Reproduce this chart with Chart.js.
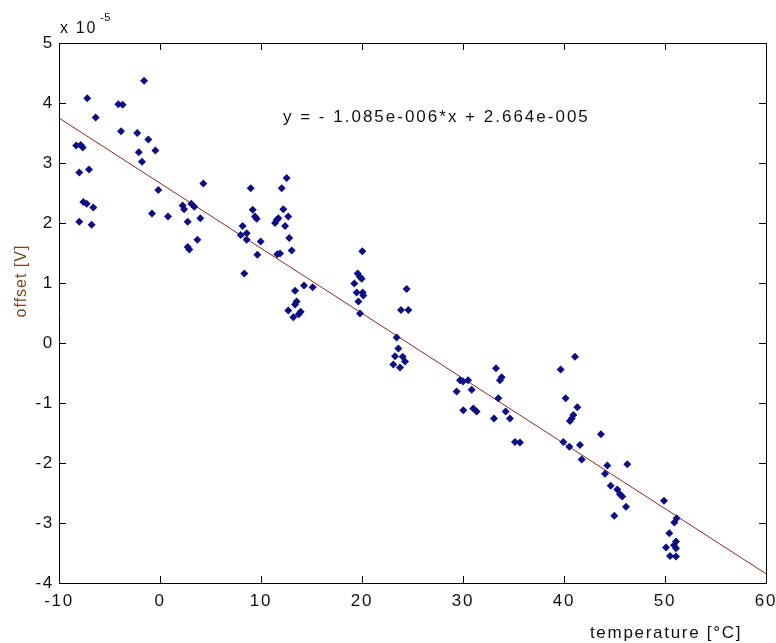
<!DOCTYPE html>
<html>
<head>
<meta charset="utf-8">
<script src="https://cdn.jsdelivr.net/npm/chart.js@4/dist/chart.umd.min.js"></script>
<style>
    html, body { margin: 0; padding: 0; background: #fff; }
    #wrap { width: 776px; height: 643px; position: relative; }
</style>
</head>
<body>
<div id="wrap"><canvas id="offset-chart"></canvas></div>
<script>
"use strict";
// measured temperature [°C] and offset [x 1e-5 V]
const tempValues = [
    -8.3, -7.85, -7.65, -7.99, -7.03, -7.2, -6.37, -7.59, -7.26, -6.6, -7.99, -6.77,
    -4.13, -3.7, -3.86, -1.58, -2.25, -1.16, -2.1, -1.78, -0.46, -0.17, -0.79, 0.79,
    2.24, 2.38, 3.1, 3.4, 2.74, 4.29, 3.99, 2.74, 2.9, 3.7,
    8.98, 9.18, 9.4, 9.57, 8.18, 7.99, 8.58, 8.58, 9.97, 9.64, 8.35,
    12.54, 12.05, 12.21, 12.7, 11.55, 11.72, 11.39, 12.38, 12.8, 13.04, 11.61, 11.88,
    14.26, 15.12, 13.37, 13.53, 13.37, 12.7, 13.93, 13.73, 13.2,
    20.03, 19.57, 19.8, 19.97, 19.24, 19.47, 20.07, 20.13, 19.64, 19.8,
    24.42, 23.86, 24.59, 23.43, 23.6, 23.27, 24.03, 24.26, 23.1, 23.76,
    29.7, 30.0, 30.5, 29.37, 30.86, 30.03, 31.02, 31.35,
    33.27, 33.66, 33.83, 33.5, 34.22, 34.65, 33.07, 35.15, 35.64,
    39.67, 41.09, 40.16, 41.32, 40.93, 40.76, 40.59, 39.93, 40.53, 41.58, 41.75,
    43.66, 44.29, 44.06, 46.27, 44.62, 45.28, 45.54, 45.77, 46.14, 44.98,
    49.9, 51.16, 50.92, 50.43, 51.09, 50.89, 50.1, 51.09, 50.5, 51.09
];
const offsetValues = [
    3.29, 3.3, 3.26, 2.84, 2.89, 4.08, 3.76, 2.35, 2.32, 2.26, 2.02, 1.97,
    3.98, 3.97, 3.53, 4.37, 3.5, 3.39, 3.18, 3.02, 3.21, 2.55, 2.16, 2.11,
    2.29, 2.23, 2.32, 2.27, 2.02, 2.66, 2.08, 1.6, 1.56, 1.72,
    2.58, 2.22, 2.11, 2.07, 1.95, 1.8, 1.83, 1.72, 1.69, 1.47, 1.16,
    2.75, 2.58, 2.23, 2.11, 2.05, 2.08, 2.0, 1.95, 1.75, 1.54, 1.48, 1.49,
    0.96, 0.93, 0.87, 0.69, 0.64, 0.54, 0.52, 0.48, 0.43,
    1.53, 1.16, 1.1, 1.07, 0.99, 0.84, 0.84, 0.79, 0.69, 0.49,
    0.9, 0.55, 0.55, 0.09, -0.09, -0.22, -0.23, -0.31, -0.36, -0.41,
    -0.62, -0.64, -0.62, -0.81, -0.78, -1.12, -1.09, -1.14,
    -0.42, -0.62, -0.57, -0.92, -1.14, -1.26, -1.26, -1.65, -1.66,
    -0.44, -0.23, -0.92, -1.07, -1.2, -1.26, -1.3, -1.65, -1.73, -1.7, -1.94,
    -1.52, -2.04, -2.18, -2.02, -2.38, -2.44, -2.52, -2.56, -2.73, -2.88,
    -2.63, -2.92, -2.99, -3.17, -3.31, -3.37, -3.41, -3.42, -3.55, -3.56
];
// linear fit end points (y = -1.085e-6*x + 2.664e-5)
const fitTemps = [-10, 60];
const fitOffsets = [3.749, -3.846];
const xTicks = [-10, 0, 10, 20, 30, 40, 50, 60];
const yTicks = [-4, -3, -2, -1, 0, 1, 2, 3, 4, 5];
const equationText = "y = - 1.085e-006*x + 2.664e-005";

const FONT = "'Liberation Sans', Arial, sans-serif";
const SPACING = "1.7px";

const matlabBox = {
    id: "matlabBox",
    beforeDraw(chart) {
        chart.ctx.letterSpacing = SPACING;
    },
    afterDraw(chart) {
        const ctx = chart.ctx;
        const a = chart.chartArea;
        const xs = chart.scales.x;
        const ys = chart.scales.y;
        ctx.save();
        ctx.strokeStyle = "#000";
        ctx.lineWidth = 1;
        ctx.beginPath();
        ctx.rect(Math.round(a.left) + 0.5, Math.round(a.top) + 0.5,
            Math.round(a.right - a.left), Math.round(a.bottom - a.top));
        xTicks.forEach((t) => {
            const px = Math.round(xs.getPixelForValue(t)) + 0.5;
            ctx.moveTo(px, a.bottom); ctx.lineTo(px, a.bottom - 7);
            ctx.moveTo(px, a.top); ctx.lineTo(px, a.top + 7);
        });
        yTicks.forEach((t) => {
            const py = Math.round(ys.getPixelForValue(t)) + 0.5;
            ctx.moveTo(a.left, py); ctx.lineTo(a.left + 7, py);
            ctx.moveTo(a.right, py); ctx.lineTo(a.right - 7, py);
        });
        ctx.stroke();

        ctx.letterSpacing = SPACING;
        // exponent label
        ctx.fillStyle = "#111";
        ctx.textBaseline = "alphabetic";
        ctx.textAlign = "left";
        ctx.font = "16px " + FONT;
        ctx.fillText("x 10", 60, 33);
        ctx.font = "11px " + FONT;
        ctx.letterSpacing = "0.5px";
        ctx.fillText("-5", 100, 21);

        // fit equation
        ctx.letterSpacing = "2px";
        ctx.font = "17px " + FONT;
        ctx.fillText(equationText, 283, 122);

        // axis titles
        ctx.letterSpacing = SPACING;
        ctx.font = "17px " + FONT;
        ctx.textAlign = "center";
        ctx.fillText("temperature [°C]", 666, 638);
        ctx.save();
        ctx.translate(26, 281);
        ctx.rotate(-Math.PI / 2);
        ctx.fillStyle = "#7a4422";
        ctx.font = "16px " + FONT;
        ctx.letterSpacing = "1px";
        ctx.fillText("offset [V]", 0, 0);
        ctx.restore();
        ctx.restore();
    },
};

const loadOffsetChart = () => {
    const canvas = document.getElementById("offset-chart");
    if (!canvas) {
        return;
    }
    const chartConfig = {
        type: "scatter",
        data: {
            datasets: [
                {
                    label: "fit",
                    data: fitTemps.map((t, i) => ({ x: t, y: fitOffsets[i] })),
                    showLine: true,
                    borderColor: "#8a2a22",
                    borderWidth: 1,
                    pointRadius: 0,
                    order: 2,
                },
                {
                    label: "offset",
                    data: tempValues.map((t, i) => ({ x: t, y: offsetValues[i] })),
                    pointStyle: "rectRot",
                    pointRadius: 4,
                    backgroundColor: "#0e0e84",
                    borderColor: "#0e0e84",
                    borderWidth: 0,
                    order: 1,
                },
            ],
        },
        options: {
            responsive: true,
            maintainAspectRatio: false,
            animation: false,
            layout: { padding: { top: 43, right: 10, left: 0, bottom: 0 } },
            plugins: {
                legend: { display: false },
                tooltip: { enabled: false },
            },
            scales: {
                x: {
                    type: "linear",
                    min: -10,
                    max: 60,
                    afterBuildTicks: (scale) => {
                        scale.ticks = xTicks.map((v) => ({ value: v }));
                    },
                    afterFit: (scale) => {
                        scale.height = 60;
                        scale.paddingLeft = 0;
                        scale.paddingRight = 0;
                    },
                    grid: { display: false, drawTicks: false },
                    border: { display: false },
                    ticks: {
                        color: "#111",
                        padding: 8,
                        font: { family: FONT, size: 17 },
                    },
                },
                y: {
                    type: "linear",
                    min: -4,
                    max: 5,
                    afterBuildTicks: (scale) => {
                        scale.ticks = yTicks.map((v) => ({ value: v }));
                    },
                    afterFit: (scale) => {
                        scale.width = 59;
                        scale.paddingTop = 0;
                        scale.paddingBottom = 0;
                    },
                    grid: { display: false, drawTicks: false },
                    border: { display: false },
                    ticks: {
                        color: "#111",
                        padding: 5,
                        font: { family: FONT, size: 17 },
                    },
                },
            },
        },
        plugins: [matlabBox],
    };
    new Chart(canvas, chartConfig);
};
window.addEventListener("load", loadOffsetChart);
</script>
</body>
</html>
